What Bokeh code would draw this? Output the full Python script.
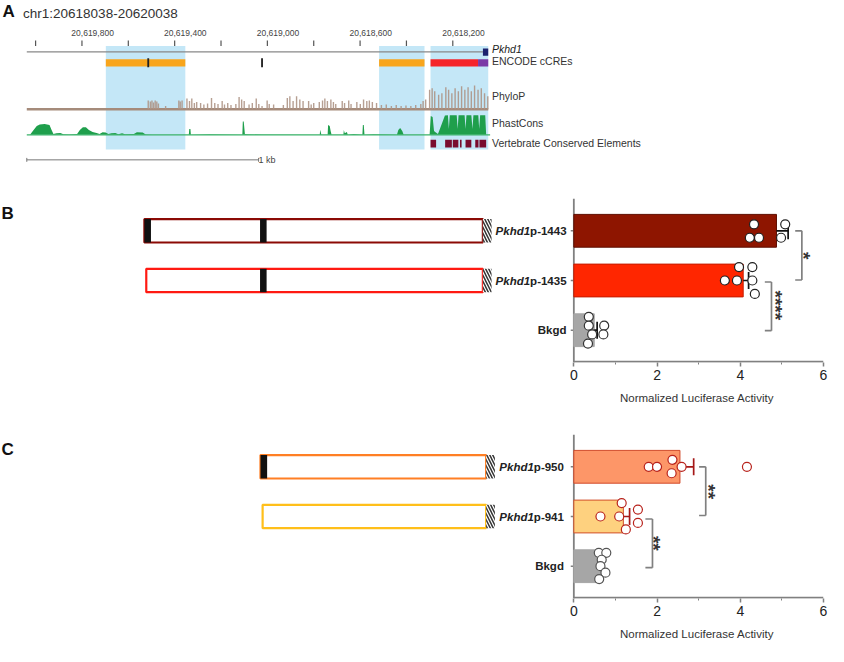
import numpy as np
from bokeh.plotting import figure
from bokeh.models import Range1d, FixedTicker
from bokeh.layouts import column, row
from bokeh.embed import file_html
from bokeh.resources import INLINE
from bokeh.core.properties import value

FONT = "Liberation Sans"

# ---------------- Panel A data (genome browser view, offsets in bp from window end) ----------------
CHROM = "chr1"
WIN_START = 20618038
WIN_END = 20620038
ruler_ticks = list(range(20620000, 20618100, -200))
ruler_labels = [20619800, 20619400, 20619000, 20618600, 20618200]

gene_name = "Pkhd1"
gene_tss = 1968
gene_exon_end = 1991

ccre_from = [341, 1520, 1742, 1947]
ccre_to = [684, 1716, 1947, 1991]
ccre_colors = ["#f8a51c", "#f8a51c", "#f5242a", "#7b3aa6"]
ccre_marks = [524, 1015]

roi_from = [341, 1520, 1742]
roi_to = [684, 1716, 1991]

phylop_at = [524, 533, 540, 547, 554, 561, 568, 599, 656, 662, 670, 691, 702, 712, 723, 733,
             750, 764, 780, 797, 811, 825, 843, 853, 867, 881, 902, 916, 927, 938, 959, 973,
             990, 1001, 1015, 1037, 1046, 1065, 1107, 1124, 1135, 1149, 1164, 1178, 1192, 1216,
             1227, 1238, 1262, 1276, 1286, 1297, 1312, 1323, 1333, 1361, 1371, 1389, 1399, 1424,
             1439, 1453, 1467, 1478, 1491, 1509, 1530, 1551, 1573, 1594, 1615, 1636, 1657, 1678,
             1700, 1710, 1721, 1738, 1749, 1760, 1777, 1791, 1808, 1820, 1834, 1848, 1862, 1876,
             1890, 1904, 1918, 1932, 1947, 1961, 1975, 1989]
phylop_val = [1.8, 1.6, 1.8, 1.4, 1.8, 1.6, 1.2, 0.7, 1.8, 1.6, 1.8, 2.2, 1.7, 2.2, 1.3, 1.5,
              1.3, 1.0, 1.2, 2.3, 1.3, 1.1, 1.7, 1.0, 1.3, 0.9, 1.1, 2.5, 2.0, 1.7, 1.0, 1.3,
              2.2, 1.1, 0.7, 1.8, 1.1, 1.0, 0.9, 2.3, 2.7, 1.7, 2.7, 2.0, 1.7, 1.7,
              1.0, 1.3, 1.5, 1.8, 2.2, 1.7, 2.0, 1.5, 1.1, 1.7, 1.3, 1.8, 1.1, 1.5,
              1.1, 2.0, 1.7, 1.8, 1.5, 1.3, 0.9, 1.0, 0.7, 0.9, 0.7, 0.8, 0.7, 0.9,
              1.1, 1.7, 2.0, 4.0, 4.3, 3.7, 3.0, 3.3, 4.5, 4.0, 3.3, 4.3, 3.7, 4.7,
              4.0, 4.5, 3.7, 4.9, 4.0, 4.3, 3.3, 2.7]

phast_at = [0, 14, 26, 43, 56, 77, 98, 107, 115, 128, 145, 158, 183, 217, 229, 242, 255, 268, 284, 301,
            314, 327, 340, 352, 365, 382, 395, 411, 424, 462, 475, 500, 513, 543, 699, 701, 706, 708, 788, 930,
            932, 936, 941, 953, 1013, 1264, 1266, 1271, 1298, 1300, 1307, 1311, 1315, 1366, 1368, 1372, 1381,
            1385, 1410, 1448, 1450, 1454, 1457, 1495, 1597, 1603, 1611, 1620, 1626, 1738, 1743, 1751, 1757,
            1762, 1774, 1779, 1804, 1817, 1821, 1825, 1855, 1859, 1863, 1889, 1893, 1897, 1918, 1923, 1927,
            1948, 1952, 1956, 1978, 1982, 1999]
phast_val = [0, 0, 0.2, 0.45, 0.52, 0.54, 0.5, 0.25, 0.05, 0.08, 0.1, 0.03, 0.02, 0.05, 0.25, 0.38, 0.38, 0.25, 0.15, 0.1,
             0.05, 0.13, 0.12, 0.04, 0.08, 0.09, 0.03, 0.08, 0.03, 0.04, 0.13, 0.12, 0.02, 0, 0, 0.3, 0.3, 0, 0.03, 0,
             0.67, 0.67, 0.05, 0.03, 0.02, 0, 0.26, 0, 0, 0.49, 0.45, 0.2, 0, 0, 0.25, 0.08, 0.15,
             0, 0.05, 0, 0.49, 0.49, 0, 0.03, 0, 0.25, 0.34, 0.2, 0, 0, 0.95, 0.9, 0.2,
             0.15, 0.05, 0.2, 0.97, 0.98, 0.3, 0.98, 0.98, 0.3, 0.98, 0.98, 0.3, 0.98, 0.98, 0.3, 0.98,
             0.98, 0.3, 0.98, 0.98, 0, 0]

vce_from = [1742, 1805, 1838, 1869, 1893, 1935, 1953]
vce_to = [1766, 1834, 1862, 1876, 1918, 1949, 1982]

track_names = ["Pkhd1", "ENCODE cCREs", "PhyloP", "PhastCons", "Vertebrate Conserved Elements"]

# ---------------- Panels B / C data ----------------
cats_B = ["Pkhd1p-1443", "Pkhd1p-1435", "Bkgd"]
len_B = [1443, 1435]
mean_B = [4.87, 4.07, 0.49]
sem_B = [0.28, 0.13, 0.07]
pts_B = [[4.33, 4.23, 4.45, 5.08, 4.98],
         [3.97, 4.29, 3.63, 3.92, 4.29, 4.35],
         [0.36, 0.36, 0.73, 0.44, 0.71, 0.34]]
jit_B = [[-0.13, 0.14, 0.14, -0.13, 0.14],
         [-0.27, -0.27, 0, 0, 0, 0.27],
         [-0.27, -0.09, -0.09, 0.085, 0.085, 0.27]]
sig_B = ["*", "****"]

cats_C = ["Pkhd1p-950", "Pkhd1p-941", "Bkgd"]
len_C = [950, 941]
mean_C = [2.55, 1.19, 0.66]
sem_C = [0.33, 0.15, 0.04]
pts_C = [[1.80, 2.00, 2.37, 2.35, 2.59, 4.16],
         [1.15, 0.64, 1.09, 1.54, 1.54, 1.25],
         [0.60, 0.78, 0.67, 0.64, 0.76, 0.61]]
jit_C = [[0, 0, -0.14, 0.13, 0, 0],
         [-0.27, 0, 0, -0.14, 0.13, 0.26],
         [-0.27, -0.27, -0.13, 0, 0.13, 0.26]]
sig_C = ["**", "**"]

element_sites = [-1443, -950]
ELEMENT_BP = 28
TAG_BP = 37

# ---------------- layout geometry ----------------
REF_W, REF_H = 844, 662
W, H = 828, 646
SX, SY = W / REF_W, H / REF_H
HA, HB = 172, 250
HC = H - HA - HB
WL = 567
WR = W - WL
CAT_TOP, CAT_BOTTOM = -0.65, 2.65
BORDERS = {"B": (26, 60), "C": (12, 48)}


def fig(**kw):
    p = figure(output_backend="svg", toolbar_location=None, **kw)
    p.outline_line_color = None
    p.background_fill_color = "white"
    p.border_fill_color = "white"
    return p


def txt(p, x, y, s, size, color="#222", style="normal", align="left", **kw):
    p.text(x=x, y=y, text=s, text_font=value(FONT), text_font_size=value(f"{size}px"),
           text_color=color, text_font_style=style, text_align=align, text_baseline="middle", **kw)


# ================= Panel A =================
TRACK_X0 = 26.8
PX_PER_BP = 0.23625
yA1 = HA / SY
pA = fig(width=W, height=HA, x_range=Range1d(0, REF_W), y_range=Range1d(yA1, 0),
         min_border=0, x_axis_location=None, y_axis_location=None)
pA.grid.visible = False
pA.extra_x_ranges = {"g": Range1d(WIN_END + TRACK_X0 / PX_PER_BP, WIN_END - (REF_W - TRACK_X0) / PX_PER_BP)}
pA.extra_y_ranges = {"phylop": Range1d((111.5 - yA1) / 5.0, 111.5 / 5.0),
                     "phast": Range1d((137.7 - yA1) / 20.4, 137.7 / 20.4)}


def g(off):
    return (WIN_END - np.asarray(off, dtype=float)).tolist()


pA.quad(left=g(roi_from), right=g(roi_to), top=46.7, bottom=152.7, x_range_name="g",
        fill_color="#c4e7f7", line_color=None)
pA.segment(x0=ruler_ticks, x1=ruler_ticks, y0=41, y1=46.5, x_range_name="g", line_color="#555", line_width=1.2)
txt(pA, [t - 46 for t in ruler_labels], [33] * len(ruler_labels), [f"{t:,}" for t in ruler_labels],
    8.5, color="#444", align="center", x_range_name="g")
txt(pA, [2], [11.5], ["A"], 17, color="#111", style="bold")
txt(pA, [23], [13], [f"{CHROM}:{WIN_START}-{WIN_END}"], 13.5, color="#333")

# gene
pA.segment(x0=g([0]), x1=g([gene_tss]), y0=52.7, y1=52.7, x_range_name="g", line_color="#888", line_width=1.3)
pA.quad(left=g([gene_tss]), right=g([gene_exon_end]), top=49.3, bottom=56.7, x_range_name="g",
        fill_color="#1c226e", line_color=None)
# cCREs
pA.quad(left=g(ccre_from), right=g(ccre_to), top=60.2, bottom=67.6, x_range_name="g",
        fill_color=ccre_colors, line_color=None)
pA.quad(left=g([m - 4 for m in ccre_marks]), right=g([m + 4 for m in ccre_marks]), top=59.3, bottom=68.3,
        x_range_name="g", fill_color="#222", line_color=None)
# PhyloP
pA.line(x=g([0, gene_exon_end]), y=[0, 0], x_range_name="g", y_range_name="phylop",
        line_color="#a58b7b", line_width=2.6)
pA.vbar(x=g(phylop_at), width=6, bottom=0, top=phylop_val, x_range_name="g", y_range_name="phylop",
        fill_color="#ae9586", line_color=None, fill_alpha=0.9)
# PhastCons
pA.varea(x=g(phast_at), y1=[0] * len(phast_at), y2=phast_val, x_range_name="g", y_range_name="phast",
         fill_color="#1f9f4c")
pA.line(x=g(phast_at), y=[0] * len(phast_at), x_range_name="g", y_range_name="phast",
        line_color="#3bb36a", line_width=1.2)
# Vertebrate conserved elements
pA.quad(left=g(vce_from), right=g(vce_to), top=142.7, bottom=150.7, x_range_name="g",
        fill_color="#7a0c2e", line_color=None)
# scale bar
pA.segment(x0=g([0]), x1=g([1000]), y0=163.3, y1=163.3, x_range_name="g", line_color="#777", line_width=1)
pA.segment(x0=g([0, 1000]), x1=g([0, 1000]), y0=161.3, y1=165.3, x_range_name="g", line_color="#777", line_width=1)
txt(pA, g([1000]), [163.3], ["1 kb"], 9, color="#444", x_range_name="g")
# track labels
track_y = [50, 61.7, 98.3, 125.7, 146.5]
txt(pA, [501], [track_y[0]], [track_names[0]], 10.5, color="#222", style="italic")
txt(pA, [501] * 4, track_y[1:], track_names[1:], 10.5, color="#333")

# ================= Constructs (left side of B, C) =================
BOLD_W = {"p": 611, "-": 333, "B": 722, "k": 556, "g": 611, "d": 611}
for ch in "0123456789":
    BOLD_W[ch] = 556


def bold_width(s, size):
    return sum(BOLD_W.get(c, 556) for c in s) * size / 1000.0


def construct_panel(h, borders, cats, lengths, colors, tss_px, px_per_bp, label_right, letter, letter_cat):
    # frame is aligned with the bar chart frame in the same row: share its category axis
    xr1 = WL / SX
    p = fig(width=WL, height=h, x_range=Range1d(0, xr1), y_range=Range1d(CAT_BOTTOM, CAT_TOP),
            min_border_left=0, min_border_right=0, min_border_top=borders[0], min_border_bottom=borders[1],
            x_axis_location=None, y_axis_location=None)
    p.grid.visible = False
    p.extra_x_ranges = {"bp": Range1d((0 - tss_px) / px_per_bp, (xr1 - tss_px) / px_per_bp)}
    idx = list(range(len(lengths)))
    hh = 0.235
    p.quad(left=[-L for L in lengths], right=[0] * len(lengths), top=[i - hh for i in idx],
           bottom=[i + hh for i in idx], x_range_name="bp",
           fill_color="white", line_color=colors, line_width=2.2)
    bl, br, bt, bb = [], [], [], []
    for i, L in zip(idx, lengths):
        for s in element_sites:
            if -L <= s:
                bl.append(s); br.append(s + ELEMENT_BP); bt.append(i - hh); bb.append(i + hh)
    if bl:
        p.quad(left=bl, right=br, top=bt, bottom=bb, x_range_name="bp",
               fill_color="#111", line_color=None)
    p.quad(left=[0] * len(lengths), right=[TAG_BP] * len(lengths), top=[i - hh for i in idx],
           bottom=[i + hh for i in idx], x_range_name="bp",
           fill_color="white", line_color=None, hatch_pattern="left_diagonal_line",
           hatch_color="#333", hatch_scale=6, hatch_weight=1.5)
    size = 11.5
    for i, name in enumerate(cats):
        if name.startswith("Pkhd1"):
            rest = name[5:]
            txt(p, [label_right], [i], [rest], size, color="#222", style="bold", align="right")
            txt(p, [label_right], [i], ["Pkhd1"], size, color="#222", style="bold italic", align="right",
                x_offset=-bold_width(rest, size))
        else:
            txt(p, [label_right], [i], [name], size, color="#222", style="bold", align="right")
    txt(p, [1], [letter_cat], [letter], 17, color="#111", style="bold")
    return p


# ================= Bar charts =================
X0 = -0.08


def bar_panel(h, borders, cats, means, sems, pts, jit, fills, outlines, dot_colors, err_colors, brackets, sigs):
    p = fig(width=WR, height=h, x_range=Range1d(X0, 6), y_range=Range1d(CAT_BOTTOM, CAT_TOP),
            min_border_left=3, min_border_right=5, min_border_top=borders[0], min_border_bottom=borders[1],
            y_axis_location=None)
    p.grid.visible = False
    ax = p.xaxis[0]
    ax.ticker = FixedTicker(ticks=[0, 2, 4, 6], minor_ticks=[1, 3, 5])
    ax.axis_line_color = None
    ax.major_tick_line_color = "#808080"
    ax.major_tick_line_width = 1.5
    ax.major_tick_out = 4
    ax.major_tick_in = 0
    ax.minor_tick_line_color = "#808080"
    ax.minor_tick_out = 2
    ax.minor_tick_in = 0
    ax.major_label_text_font = FONT
    ax.major_label_text_font_size = "14px"
    ax.major_label_text_color = "#222"
    ax.major_label_standoff = 3
    ax.axis_label = "Normalized Luciferase Activity"
    ax.axis_label_text_font = FONT
    ax.axis_label_text_font_size = "11.5px"
    ax.axis_label_text_font_style = "normal"
    ax.axis_label_text_color = "#333"
    ax.axis_label_standoff = 9

    idx = np.arange(len(cats))
    # axis lines (value axis along the bottom from 0 to 6, category axis at 0)
    p.segment(x0=[0, 0], x1=[6, 0], y0=[CAT_BOTTOM - 0.015, CAT_TOP], y1=[CAT_BOTTOM - 0.015, CAT_BOTTOM],
              line_color="#808080", line_width=1.8)
    p.segment(x0=[X0] * len(cats), x1=[0] * len(cats), y0=idx, y1=idx, line_color="#808080", line_width=1.5)
    p.hbar(y=idx, left=0, right=means, height=0.66, fill_color=fills, line_color=outlines, line_width=1)
    hi = (np.array(means) + np.array(sems)).tolist()
    p.segment(x0=means, x1=hi, y0=idx, y1=idx, line_color=err_colors, line_width=1.7)
    p.segment(x0=hi, x1=hi, y0=idx - 0.17, y1=idx + 0.17, line_color=err_colors, line_width=1.7)
    for i, (vals, js) in enumerate(zip(pts, jit)):
        p.scatter(x=vals, y=[i + j for j in js], size=9, fill_color="white",
                  line_color=dot_colors[i], line_width=1.2)
    for (xv, arm, y0, y1, tx, ty), s in zip(brackets, sigs):
        p.segment(x0=[xv, xv - arm, xv - arm], x1=[xv, xv, xv], y0=[y0, y0, y1], y1=[y1, y0, y1],
                  line_color="#808080", line_width=1.7)
        p.text(x=[tx], y=[ty], text=[s], angle=-np.pi / 2, text_font=value(FONT),
               text_font_size=value("19px"), text_font_style="bold", text_color="#333",
               text_align="center", text_baseline="middle", x_offset=-4)
    return p


pBL = construct_panel(HB, BORDERS["B"], cats_B, len_B, ["#8b0a05", "#ff1a12"], 491.7, 0.2391, 577, "B", -0.35)
pCL = construct_panel(HC, BORDERS["C"], cats_C, len_C, ["#ff7f24", "#ffbf1a"], 495.0, 0.2421, 574.3, "C", -0.34)

pBR = bar_panel(HB, BORDERS["B"], cats_B, mean_B, sem_B, pts_B, jit_B,
                ["#8e1500", "#ff2600", "#a6a6a6"], ["#5e0e00", "#c41d00", "#a6a6a6"],
                ["#222", "#222", "#333"], ["#111", "#111", "#111"],
                [(5.48, 0.16, 0.0, 0.99, 5.62, 0.5), (4.75, 0.16, 1.03, 2.01, 4.94, 1.5)], sig_B)
pCR = bar_panel(HC, BORDERS["C"], cats_C, mean_C, sem_C, pts_C, jit_C,
                ["#fd9668", "#fed17f", "#a6a6a6"], ["#d24a2a", "#d2502a", "#a6a6a6"],
                ["#b8231c", "#b8231c", "#555"], ["#a51818", "#a51818", "#555"],
                [(3.17, 0.16, 0.0, 0.98, 3.33, 0.5), (1.89, 0.17, 1.05, 2.03, 2.02, 1.54)], sig_C)

layout = column(pA, row(pBL, pBR, spacing=0), row(pCL, pCR, spacing=0), spacing=0)
open("out.html", "w").write(file_html(layout, INLINE, title="Pkhd1 promoter"))
